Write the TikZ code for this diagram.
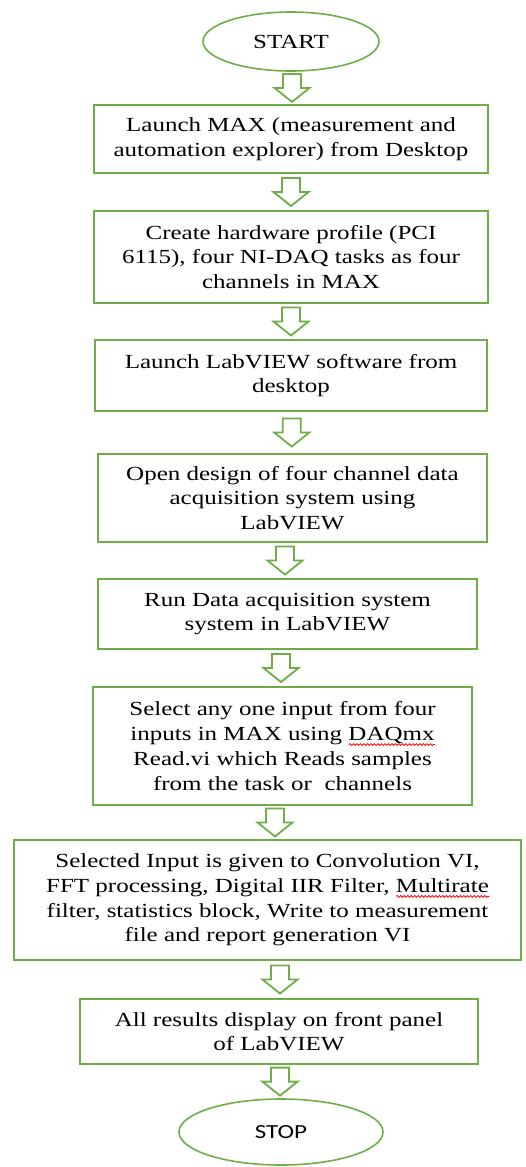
\documentclass[tikz,border=0pt]{standalone}
\usepackage{fontspec}
\setmainfont{Liberation Serif}[FakeStretch=1.25]
\newfontfamily\stopfont{Carlito}[FakeStretch=1.25]
\usetikzlibrary{shapes.geometric,calc,decorations.pathmorphing}
\definecolor{gline}{RGB}{112,173,71}
\newlength\wavelen
\newcommand\redwave[1]{\settowidth\wavelen{#1}\rlap{\tikz[baseline=0pt,x=1pt,y=1pt]\draw[red,line width=0.8pt,decorate,decoration={snake,amplitude=0.9pt,segment length=3.5pt}] (0,-4) -- (\wavelen,-4);}#1}
\tikzset{
  box/.style={draw=gline, line width=2pt, rectangle, align=center, inner sep=0pt,
    font=\fontsize{20}{24.8}\selectfont},
  term/.style={draw=gline, line width=1.6pt, ellipse, inner sep=0pt},
  garrow/.style={draw=gline, line width=1.8pt, fill=white, line join=miter},
  blockarr/.pic={\draw[garrow] (-9,-14) -- (9,-14) -- (9,0) -- (17.5,0) -- (0,14) -- (-17.5,0) -- (-9,0) -- cycle;}
}
\newcommand\flowarr[3]{\pic at ($(#1.south)!0.5!(#2.north)+(#3,0)$) {blockarr};}
\begin{document}
\begin{tikzpicture}[x=1pt,y=-1pt]
\useasboundingbox[fill=white] (0,0) rectangle (526,1167);
\node[term, minimum width=176pt, minimum height=59pt, font=\fontsize{20}{24}\selectfont] (start) at (291,41.5) {START};
\node[box, minimum width=394pt, minimum height=68pt] (b1) at (291,139) {Launch MAX (measurement and\\automation explorer) from Desktop};
\node[box, minimum width=394pt, minimum height=92pt] (b2) at (291,257) {Create hardware profile (PCI\\6115), four NI-DAQ tasks as four\\channels in MAX};
\node[box, minimum width=392pt, minimum height=71pt] (b3) at (291,375.5) {Launch LabVIEW software from\\desktop};
\node[box, minimum width=389pt, minimum height=88pt] (b4) at (292.5,498) {Open design of four channel data\\acquisition system using\\LabVIEW};
\node[box, minimum width=379pt, minimum height=70pt] (b5) at (287.5,614) {Run Data acquisition system\\system in LabVIEW};
\node[box, minimum width=379pt, minimum height=118pt] (b6) at (282.5,746) {Select any one input from four\\inputs in MAX using \redwave{DAQmx}\\Read.vi which Reads samples\\from the task or \ channels};
\node[box, minimum width=507pt, minimum height=120pt] (b7) at (267.5,900) {Selected Input is given to Convolution VI,\\FFT processing, Digital IIR Filter, \redwave{Multirate}\\filter, statistics block, Write to measurement\\file and report generation VI};
\node[box, minimum width=398pt, minimum height=65pt] (b8) at (279,1031.5) {All results display on front panel\\of LabVIEW};
\node[term, minimum width=204pt, minimum height=66pt, font=\stopfont\fontsize{20}{24}\selectfont] (stop) at (281,1132) {STOP};
\flowarr{start}{b1}{1}
\flowarr{b1}{b2}{0}
\flowarr{b2}{b3}{0}
\flowarr{b3}{b4}{0}
\flowarr{b4}{b5}{-5}
\flowarr{b5}{b6}{-4}
\flowarr{b6}{b7}{0}
\flowarr{b7}{b8}{6.75}
\flowarr{b8}{stop}{0}
\end{tikzpicture}
\end{document}
